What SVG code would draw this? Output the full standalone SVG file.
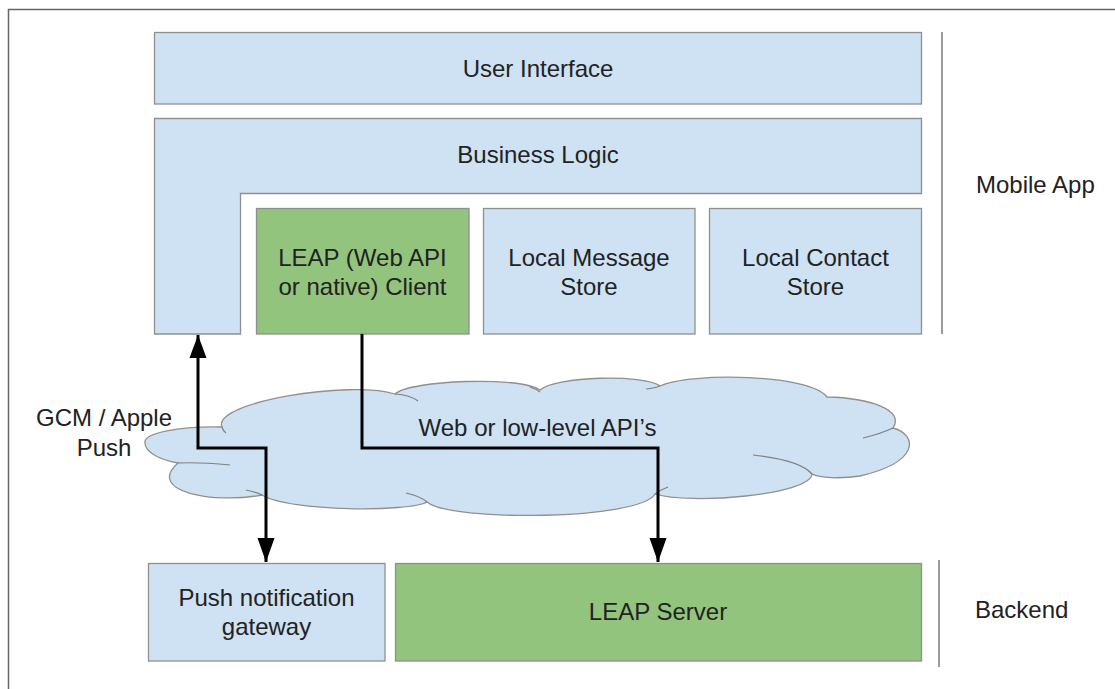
<svg xmlns="http://www.w3.org/2000/svg" width="1115" height="689" viewBox="0 0 1115 689">
<style>
  .box{fill:#cfe2f3;stroke:#8f8f8f;stroke-width:1.3}
  .green{fill:#93c47d;stroke:#8f8f8f;stroke-width:1.3}
  .t{font-family:"Liberation Sans",Arial,sans-serif;font-size:24px;fill:#222}
  .c{text-anchor:middle}
  .sep{stroke:#666;stroke-width:1.3;fill:none}
  .conn{stroke:#000;stroke-width:3;fill:none}
  .curl{fill:none;stroke:#7f7f7f;stroke-width:1.2}
</style>
<defs>
  <marker id="ah" viewBox="0 0 10 10" refX="9" refY="5" markerWidth="6.5" markerHeight="6" orient="auto" markerUnits="strokeWidth">
    <path d="M0,0 L10,5 L0,10 Z" fill="#000"/>
  </marker>
</defs>
<rect width="1115" height="689" fill="#fff"/>
<path d="M8.5,689 V9.5 H1115" fill="none" stroke="#666" stroke-width="1.5"/>

<g id="separators">
  <line class="sep" x1="942" y1="32" x2="942" y2="334"/>
  <line class="sep" x1="939" y1="560" x2="939" y2="667"/>
</g>

<g id="user-interface">
  <rect class="box" x="154.5" y="32.5" width="767" height="71.5"/>
  <text class="t c" x="538" y="77">User Interface</text>
</g>
<g id="business-logic">
  <path class="box" d="M154.5,118.5 H921.5 V193.5 H240.5 V334 H154.5 Z"/>
  <text class="t c" x="538" y="163">Business Logic</text>
</g>
<g id="leap-client">
  <rect class="green" x="256.5" y="208.5" width="212.5" height="125.5"/>
  <text class="t c" x="362.5" y="266">LEAP (Web API</text>
  <text class="t c" x="362.5" y="295">or native) Client</text>
</g>
<g id="local-message-store">
  <rect class="box" x="483.5" y="208.5" width="211.5" height="125.5"/>
  <text class="t c" x="589" y="266">Local Message</text>
  <text class="t c" x="589" y="295">Store</text>
</g>
<g id="local-contact-store">
  <rect class="box" x="709.5" y="208.5" width="212" height="125.5"/>
  <text class="t c" x="815.5" y="266">Local Contact</text>
  <text class="t c" x="815.5" y="295">Store</text>
</g>
<g id="mobile-app-label">
  <text class="t" x="976" y="193">Mobile App</text>
</g>

<g id="cloud">
  <path class="box" d="M145,443 C143,433 180,426 222,427 C212,402 350,380 395,394 C410,380 520,376 540,390 C555,376 645,374 660,386 C690,372 810,374 827,397 C870,398 905,410 893,428 C918,435 920,462 860,476 C840,479 820,478 812,474 C810,495 690,505 655,494 C640,520 450,522 427,502 C410,512 290,512 262,495 C215,504 145,492 178,463 C160,460 145,452 145,443 Z"/>
  <path class="curl" d="M395,394 Q410,395 418,401"/>
  <path class="curl" d="M222,427 Q223,431 226,433"/>
  <path class="curl" d="M530,387 Q536,389 540,392"/>
  <path class="curl" d="M660,386 Q655,388 646,389"/>
  <path class="curl" d="M893,428 Q880,434 863,438"/>
  <path class="curl" d="M753,455 Q800,460 812,474"/>
  <path class="curl" d="M178,463 Q200,462 230,465"/>
  <path class="curl" d="M427,502 Q420,496 406,493"/>
  <path class="curl" d="M262,495 Q256,492 246,490"/>
  <path class="curl" d="M655,494 Q660,490 668,487"/>
  <text class="t c" x="537.5" y="436">Web or low-level API’s</text>
</g>
<g id="gcm-label">
  <text class="t c" x="104" y="426">GCM / Apple</text>
  <text class="t c" x="104" y="456">Push</text>
</g>

<g id="push-gateway">
  <rect class="box" x="148.5" y="563.5" width="236.5" height="97.5"/>
  <text class="t c" x="266.5" y="606">Push notification</text>
  <text class="t c" x="266.5" y="635">gateway</text>
</g>
<g id="leap-server">
  <rect class="green" x="395.5" y="563.5" width="526" height="97.5"/>
  <text class="t c" x="658" y="620">LEAP Server</text>
</g>
<g id="backend-label">
  <text class="t" x="975" y="618">Backend</text>
</g>

<g id="connectors">
  <path class="conn" d="M198,335 V448 H266 V562"/>
  <path d="M198,335 L189.5,358 L206.5,358 Z" fill="#000"/>
  <path d="M266,562 L257.5,538 L274.5,538 Z" fill="#000"/>
  <path class="conn" d="M362,334 V448 H658 V562"/>
  <path d="M658,562 L649.5,538 L666.5,538 Z" fill="#000"/>
</g>
</svg>
